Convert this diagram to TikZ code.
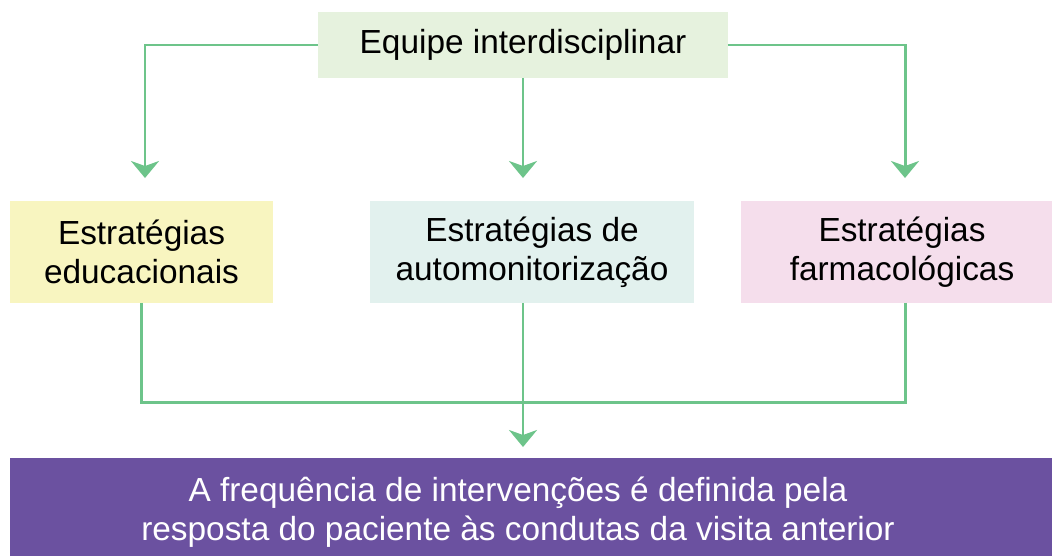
\documentclass[tikz,border=0pt]{standalone}
\usepackage{fontspec}
\setmainfont{Liberation Sans}
\usetikzlibrary{arrows.meta}
\definecolor{linegreen}{RGB}{109,196,138}
\definecolor{topfill}{RGB}{230,242,222}
\definecolor{edufill}{RGB}{248,245,192}
\definecolor{autofill}{RGB}{226,241,238}
\definecolor{farmfill}{RGB}{245,222,236}
\definecolor{resfill}{RGB}{107,81,160}
\tikzset{box/.style={inner sep=0pt, outer sep=0pt, align=center, font=\fontsize{19}{22}\selectfont}}
\tikzset{link/.style={color=linegreen, line width=1.7pt}}
\tikzset{tip/.style={-{Stealth[length=0.34cm, width=0.56cm, inset=0.1cm]}}}

\begin{document}
\begin{tikzpicture}[x=0.02cm, y=-0.02cm]
  \useasboundingbox (0,0) rectangle (1052,555);
  \node[box, fill=topfill, minimum width=8.2cm, minimum height=1.32cm] (team) at (523,45) {Equipe interdisciplinar};
  \node[box, fill=edufill, minimum width=5.26cm, minimum height=2.04cm] (edu) at (141.5,252) {Estratégias\\educacionais};
  \node[box, fill=autofill, minimum width=6.48cm, minimum height=2.04cm] (auto) at (532,252) {Estratégias de\\automonitorização};
  \node[box, fill=farmfill, minimum width=6.44cm, minimum height=2.04cm] (farm) at (902,252) {Estratégias\\farmacológicas};
  % purple band runs off the right edge
  \fill[resfill] (10,458) rectangle (1060,560);
  \node[box, text=white, minimum height=2.16cm] (res) at (518,512) {A frequência de intervenções é definida pela\\resposta do paciente às condutas da visita anterior};

  \coordinate (join) at (523,402);
  \draw[link, tip] (team.west) -| ([xshift=3.5*0.02cm, yshift=0.46cm]edu.north);
  \draw[link, tip] (team.south -| join) -- ([yshift=0.46cm]auto.north -| join);
  \draw[link, tip] (team.east) -| ([xshift=3*0.02cm, yshift=0.46cm]farm.north);
  \draw[link] (edu.south) |- (join);
  \draw[link] ([xshift=3*0.02cm]farm.south) |- (join);
  \draw[link, tip] (auto.south -| join) -- ([yshift=0.22cm]res.north -| join);
\end{tikzpicture}
\end{document}
